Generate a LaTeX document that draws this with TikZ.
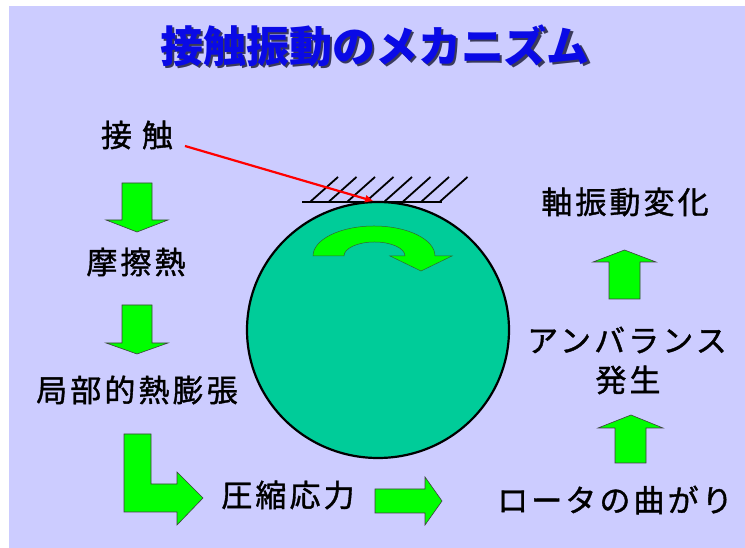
\documentclass[tikz,border=0pt]{standalone}
\usepackage{fontspec}
\newfontfamily\jp[LetterSpace=10,FakeBold=1.2]{Noto Sans CJK JP}
\newfontfamily\jpt{Noto Sans CJK JP}
\usetikzlibrary{arrows.meta}
\definecolor{bgc}{HTML}{CCCCFF}
\definecolor{rotor}{HTML}{00CC99}
\definecolor{arrowgreen}{HTML}{00FF00}
\definecolor{arrowedge}{HTML}{404040}
\definecolor{titleblue}{HTML}{0A0AE6}
\definecolor{titleshadow}{HTML}{3A3A5A}
\newcommand{\shadowed}[1]{\makebox[0pt][l]{\kern2.5pt\raisebox{-2.5pt}{\color{titleshadow}#1}}#1}
\begin{document}
\begin{tikzpicture}[x=1pt,y=1pt,
  garrow/.style={fill=arrowgreen, draw=arrowedge, line width=0.6pt, line join=miter},
  lbl/.style={font=\jp\fontsize{31}{34}\selectfont, text=black, inner sep=0pt, anchor=center},
  hatchline/.style={line width=2.2pt, black}]
\useasboundingbox (0,0) rectangle (745,548);
\fill[white] (0,0) rectangle (745,548);
\fill[bgc] (9,0) rectangle (745,542);

% title
\node[inner sep=0pt, text=titleblue, font=\jpt\bfseries\fontsize{43}{46}\selectfont] (title) at (375,501) {\shadowed{接触振動のメカニズム}};

% rotor
\draw[fill=rotor, line width=2.2pt] (378,218) ellipse [x radius=131, y radius=128];
\node[inner sep=0pt, minimum size=0pt] (rotor) at (378,218) {};

% fixed surface with hatching
\draw[hatchline] (302,346) -- (442,346);
\foreach \i in {0,...,7} {
  \draw[hatchline, line width=1.8pt] ({310+18.5*\i},346) -- ({338+18.5*\i},371);
}

% curved arrow on rotor
\path[garrow, draw=arrowedge!80!green, line width=0.5pt]
  (313,292) arc[start angle=180, end angle=0, x radius=61, y radius=30]
  -- (452,292) -- (421,277) -- (390,292) -- (405,292)
  arc[start angle=0, end angle=180, x radius=30.5, y radius=14] -- cycle;

% labels
\node[lbl] (contact) at (137,413) {接 触};
\node[lbl] (heat) at (136,286) {摩擦熱};
\node[lbl] (expand) at (137,158) {局部的熱膨張};
\node[lbl] (stress) at (288,53) {圧縮応力};
\node[lbl] (bend) at (615,48) {ロータの曲がり};
\node[lbl] (unbal) at (627,208) {アンバランス};
\node[lbl] (occur) at (628,168) {発生};
\node[lbl] (vib) at (625,346) {軸振動変化};

% red pointer
\coordinate (redstart) at (185,402);
\coordinate (touch) at (373,347);
\draw[red, line width=2.2pt, -{Triangle[length=8pt,width=7pt]}] (redstart) -- (touch);

% down arrows
\path[garrow] (122,365) -- (152,365) -- (152,328) -- (168,328) -- (137,316) -- (106,328) -- (122,328) -- cycle;
\path[garrow] (122,243) -- (152,243) -- (152,205) -- (168,205) -- (137,194) -- (106,205) -- (122,205) -- cycle;
% L arrow
\path[garrow] (124,114) -- (151,114) -- (151,64) -- (177,64) -- (177,76) -- (203,50) -- (177,23) -- (177,36) -- (124,36) -- cycle;
% right arrow
\path[garrow] (375,59) -- (425,59) -- (425,71) -- (442,47) -- (425,23) -- (425,35) -- (375,35) -- cycle;
% up arrows
\path[garrow] (615,85) -- (646,85) -- (646,120) -- (663,120) -- (631,133) -- (598,120) -- (615,120) -- cycle;
\path[garrow] (609,249) -- (640,249) -- (640,286) -- (656,286) -- (624.5,298) -- (593,286) -- (609,286) -- cycle;
\end{tikzpicture}
\end{document}
